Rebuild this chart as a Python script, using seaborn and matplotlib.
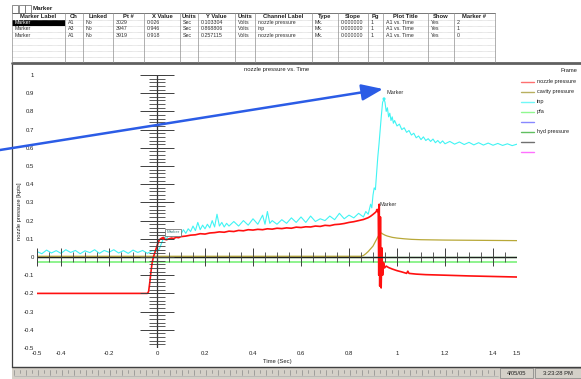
import matplotlib
matplotlib.use("Agg")
import matplotlib.pyplot as plt
import seaborn as sns
import numpy as np
import pandas as pd
from matplotlib.patches import Rectangle

# ---------------- data ----------------
nozzle_t = [-0.5, -0.04, -0.035, -0.03, -0.025, -0.02, -0.015, -0.01, -0.005, 0.0, 0.005, 0.01, 0.015, 0.02,
            0.026, 0.032, 0.04, 0.05, 0.06, 0.07, 0.08, 0.09, 0.1, 0.12, 0.14, 0.16, 0.18, 0.2, 0.22, 0.24,
            0.26, 0.28, 0.3, 0.32, 0.34, 0.36, 0.38, 0.4, 0.42, 0.44, 0.46, 0.48, 0.5, 0.52, 0.54, 0.56,
            0.58, 0.6, 0.62, 0.64, 0.66, 0.68, 0.7, 0.72, 0.74, 0.76, 0.78, 0.8, 0.82, 0.84, 0.86, 0.88,
            0.89, 0.9, 0.91, 0.918, 0.922, 0.924, 0.926, 0.928, 0.931, 0.934, 0.937, 0.94, 0.944, 0.948,
            0.955, 0.965, 0.98, 1.0, 1.02, 1.04, 1.045, 1.05, 1.08, 1.12, 1.2, 1.3, 1.4, 1.5]
nozzle_v = [-0.2, -0.2, -0.19, -0.14, -0.08, -0.03, 0.0, 0.02, 0.04, 0.06, 0.08, 0.095, 0.1, 0.104,
            0.103, 0.097, 0.095, 0.1, 0.104, 0.102, 0.108, 0.106, 0.112, 0.115, 0.12, 0.122, 0.128, 0.126,
            0.132, 0.134, 0.138, 0.136, 0.142, 0.14, 0.146, 0.144, 0.15, 0.148, 0.152, 0.15, 0.155, 0.153,
            0.158, 0.156, 0.16, 0.158, 0.164, 0.162, 0.166, 0.165, 0.17, 0.168, 0.174, 0.172, 0.178, 0.18,
            0.184, 0.19, 0.194, 0.2, 0.206, 0.216, 0.224, 0.234, 0.245, 0.257, 0.24, -0.1, 0.29, -0.16,
            0.22, -0.17, 0.05, -0.1, -0.03, -0.06, -0.05, -0.058, -0.066, -0.075, -0.082, -0.09, -0.078,
            -0.09, -0.094, -0.097, -0.1, -0.104, -0.107, -0.11]

inp_t = [-0.5, -0.48, -0.46, -0.44, -0.42, -0.4, -0.38, -0.36, -0.34, -0.32, -0.3, -0.28, -0.26, -0.24,
         -0.22, -0.2, -0.18, -0.16, -0.14, -0.12, -0.1, -0.08, -0.06, -0.04, -0.02, 0.0, 0.01, 0.02, 0.03,
         0.04, 0.05, 0.06, 0.07, 0.08, 0.09, 0.1, 0.11, 0.12, 0.13, 0.14, 0.15, 0.16, 0.17, 0.18, 0.19,
         0.2, 0.21, 0.22, 0.23, 0.24, 0.25, 0.26, 0.27, 0.28, 0.29, 0.3, 0.32, 0.34, 0.36, 0.38, 0.4,
         0.42, 0.44, 0.45, 0.46, 0.47, 0.48, 0.5, 0.52, 0.54, 0.56, 0.58, 0.6, 0.62, 0.64, 0.66, 0.68,
         0.7, 0.72, 0.74, 0.76, 0.78, 0.8, 0.82, 0.84, 0.86, 0.87, 0.88, 0.89, 0.895, 0.9, 0.905, 0.91,
         0.915, 0.92, 0.925, 0.93, 0.935, 0.94, 0.946, 0.95, 0.955, 0.96, 0.965, 0.97, 0.975, 0.98,
         0.985, 0.99, 1.0, 1.01, 1.02, 1.03, 1.04, 1.05, 1.06, 1.07, 1.08, 1.09, 1.1, 1.11, 1.12, 1.13,
         1.14, 1.15, 1.16, 1.17, 1.18, 1.19, 1.2, 1.22, 1.24, 1.26, 1.28, 1.3, 1.32, 1.34, 1.36, 1.38,
         1.4, 1.42, 1.44, 1.46, 1.48, 1.5]
inp_v = [0.03, 0.018, 0.038, 0.022, 0.035, 0.02, 0.04, 0.025, 0.036, 0.018, 0.034, 0.024, 0.04, 0.02,
         0.036, 0.026, 0.04, 0.022, 0.035, 0.02, 0.038, 0.025, 0.036, 0.02, 0.035, 0.03, 0.045, 0.08, 0.11,
         0.1, 0.125, 0.115, 0.13, 0.12, 0.14, 0.125, 0.15, 0.13, 0.155, 0.14, 0.17, 0.145, 0.19, 0.15,
         0.175, 0.155, 0.18, 0.16, 0.2, 0.165, 0.235, 0.17, 0.19, 0.165, 0.185, 0.17, 0.195, 0.17, 0.2,
         0.175, 0.21, 0.18, 0.23, 0.18, 0.25, 0.185, 0.2, 0.18, 0.205, 0.185, 0.215, 0.19, 0.22, 0.19,
         0.225, 0.195, 0.21, 0.2, 0.225, 0.205, 0.24, 0.21, 0.23, 0.215, 0.24, 0.22, 0.25, 0.235, 0.29,
         0.27, 0.34, 0.38, 0.37, 0.46, 0.55, 0.62, 0.7, 0.78, 0.85, 0.868, 0.85, 0.8, 0.82, 0.77, 0.79,
         0.75, 0.77, 0.735, 0.75, 0.72, 0.73, 0.7, 0.71, 0.685, 0.695, 0.67, 0.68, 0.655, 0.665, 0.645,
         0.66, 0.64, 0.65, 0.635, 0.648, 0.628, 0.64, 0.625, 0.638, 0.622, 0.635, 0.62, 0.632, 0.618,
         0.63, 0.616, 0.628, 0.615, 0.626, 0.614, 0.624, 0.613, 0.622, 0.612, 0.62]

cavity_t = [-0.5, 0.85, 0.86, 0.87, 0.88, 0.89, 0.9, 0.91, 0.92, 0.93, 0.935, 0.94, 0.95, 0.96, 0.98,
            1.0, 1.03, 1.06, 1.1, 1.2, 1.3, 1.4, 1.5]
cavity_v = [0.004, 0.004, 0.008, 0.018, 0.03, 0.045, 0.06, 0.085, 0.11, 0.13, 0.132, 0.127, 0.12, 0.115,
            0.108, 0.104, 0.1, 0.097, 0.095, 0.093, 0.092, 0.091, 0.09]

pfa_t = [-0.5, 1.5]
pfa_v = [-0.03, -0.03]
hyd_t = [-0.5, 1.5]
hyd_v = [0.0, 0.0]

legend_names = ["nozzle pressure", "cavity pressure", "inp", "pfa", "", "hyd pressure", "", ""]
legend_colors = ["#ff7070", "#b8b060", "#70f8f8", "#90f890", "#8888ff", "#60c060", "#707070", "#ff70ff"]

marker_x = [0.026, 0.946, 0.918]
marker_y = [0.103304, 0.868806, 0.257115]

x_tick_vals = [-0.5, -0.4, -0.2, 0, 0.2, 0.4, 0.6, 0.8, 1, 1.2, 1.4, 1.5]
x_tick_labels = ["-0.5", "-0.4", "-0.2", "0", "0.2", "0.4", "0.6", "0.8", "1", "1.2", "1.4", "1.5"]
y_tick_vals = [1, 0.9, 0.8, 0.7, 0.6, 0.5, 0.4, 0.3, 0.2, 0.1, 0, -0.1, -0.2, -0.3, -0.4, -0.5]
y_tick_labels = ["1", "0.9", "0.8", "0.7", "0.6", "0.5", "0.4", "0.3", "0.2", "0.1", "0",
                 "-0.1", "-0.2", "-0.3", "-0.4", "-0.5"]

table_headers = ["Marker Label", "Ch", "Linked", "Pt #", "X Value", "Units", "Y Value", "Units",
                 "Channel Label", "Type", "Slope", "Pg", "Plot Title", "Show", "Marker #"]
table_rows = [
    ["Marker", "A1", "No", "3029", "0.026", "Sec", "0.103304", "Volts", "nozzle pressure", "Mk.",
     "0.000000", "1", "A1 vs. Time", "Yes", "2"],
    ["Marker", "A3", "No", "3947", "0.946", "Sec", "0.868806", "Volts", "inp", "Mk.",
     "0.000000", "1", "A1 vs. Time", "Yes", "1"],
    ["Marker", "A1", "No", "3919", "0.918", "Sec", "0.257115", "Volts", "nozzle pressure", "Mk.",
     "0.000000", "1", "A1 vs. Time", "Yes", "0"],
]

# ---------------- figure ----------------
sns.set_theme(style="white")
plt.rcParams["font.family"] = ["Liberation Sans", "DejaVu Sans"]
W, H = 581, 379
fig = plt.figure(figsize=(W / 100, H / 100), dpi=100)
fig.patch.set_facecolor("white")

ax = fig.add_axes([37 / W, 1 - 348 / H, (517 - 37) / W, (348 - 75) / H])
ax.set_xlim(-0.5, 1.5)
ax.set_ylim(-0.5, 1.0)
for s in ax.spines.values():
    s.set_visible(False)
ax.set_facecolor("none")

frames = []
for name, t, v in [("pfa", pfa_t, pfa_v), ("hyd pressure", hyd_t, hyd_v),
                   ("cavity pressure", cavity_t, cavity_v), ("inp", inp_t, inp_v),
                   ("nozzle pressure", nozzle_t, nozzle_v)]:
    frames.append(pd.DataFrame({"t": t, "v": v, "series": name}))
df = pd.concat(frames, ignore_index=True)
palette = {"pfa": "#70f070", "hyd pressure": "#3a9a3a", "cavity pressure": "#b8a838",
           "inp": "#40f4f4", "nozzle pressure": "#ff1010"}
sizes = {"pfa": 1.1, "hyd pressure": 1.0, "cavity pressure": 0.9, "inp": 0.8, "nozzle pressure": 1.2}
sns.lineplot(data=df, x="t", y="v", hue="series", palette=palette, size="series", sizes=sizes,
             estimator=None, sort=False, legend=False, ax=ax)

# axis cross
ax.axhline(0, color="#202020", lw=0.9, zorder=4)
ax.vlines(0, -0.5, 1.0, color="#303030", lw=0.9, zorder=4)
ymaj = np.round(np.arange(-0.5, 1.0001, 0.1), 3)
ymin = np.round(np.arange(-0.5, 1.0001, 0.02), 3)
ax.hlines(ymin, -0.035, 0.035, color="#404040", lw=0.6, zorder=4)
ax.hlines(ymaj, -0.069, 0.069, color="#404040", lw=0.7, zorder=4)
xt = np.round(np.arange(-0.5, 1.5001, 0.05), 3)
tall = [x for x in xt if abs((x / 0.2) - round(x / 0.2)) < 1e-6 or x in (-0.5, 1.5)]
short = [x for x in xt if x not in tall]
ax.vlines(short, -0.027, 0.027, color="#404040", lw=0.6, zorder=4)
ax.vlines(tall, -0.05, 0.05, color="#404040", lw=0.7, zorder=4)

ax.set_xticks(x_tick_vals)
ax.set_xticklabels(x_tick_labels)
ax.set_yticks(y_tick_vals)
ax.set_yticklabels(y_tick_labels)
ax.tick_params(axis="both", length=0, labelsize=4.3, colors="#202020")
ax.tick_params(axis="x", pad=2.5)
ax.tick_params(axis="y", pad=2.0)
ax.set_xlabel("")
ax.set_ylabel("")

# markers
mcolors = ["#ff1010", "#40f4f4", "#ff1010"]
ax.scatter(marker_x, marker_y, s=5, c=mcolors, zorder=6, linewidths=0)
ax.annotate("Marker", (marker_x[0], marker_y[0]), xytext=(3, 6), textcoords="offset pixels",
            fontsize=3.2, color="#408080", va="center", ha="left",
            bbox=dict(boxstyle="square,pad=0.3", fc="white", ec="#606060", lw=0.5), zorder=7)
ax.annotate("Marker", (marker_x[1], marker_y[1]), xytext=(2, 6), textcoords="offset pixels",
            fontsize=4, color="#303030", va="center", ha="left", zorder=7)
ax.annotate("Marker", (marker_x[2], marker_y[2]), xytext=(2, 6), textcoords="offset pixels",
            fontsize=4, color="#303030", va="center", ha="left", zorder=7)

# ---------------- overlay (pixel coordinates) ----------------
ov = fig.add_axes([0, 0, 1, 1], zorder=5)
ov.set_xlim(0, W)
ov.set_ylim(H, 0)
ov.axis("off")
ov.patch.set_alpha(0)

ov.text(277, 70, "nozzle pressure vs. Time", fontsize=4.2, ha="center", va="center", color="#202020")
ov.text(577, 70, "Frame", fontsize=4.2, ha="right", va="center", color="#202020")
ov.text(277, 362, "Time (Sec)", fontsize=4.2, ha="center", va="center", color="#202020")
ov.text(20, 211, "nozzle pressure [kpts]", fontsize=4.2, ha="center", va="center", rotation=90,
        color="#202020")

for i, (nm, c) in enumerate(zip(legend_names, legend_colors)):
    y = 82 + 10 * i
    ov.plot([521, 534], [y, y], color=c, lw=1.0)
    if nm:
        ov.text(537, y, nm, fontsize=4.0, va="center", ha="left", color="#202020")

# plot frame
ov.plot([12, 12], [64, 367], color="#404040", lw=0.9)
ov.plot([12, 581], [63, 63], color="#606060", lw=2.0)
ov.plot([12, 581], [366.5, 366.5], color="#404040", lw=1.0)

# status bar
ov.add_patch(Rectangle((12, 367), 569, 12, fc="#d4d0c8", ec="none"))
for k, x in enumerate(range(14, 498, 6)):
    ov.plot([x, x], [370, 375 if k % 2 == 0 else 373], color="#8a8a8a", lw=0.5)
ov.plot([14, 498], [375.5, 375.5], color="#a8a8a8", lw=0.4)
ov.add_patch(Rectangle((500, 368), 33, 10, fc="#d4d0c8", ec="#808080", lw=0.5))
ov.add_patch(Rectangle((535, 368), 46, 10, fc="#d4d0c8", ec="#808080", lw=0.5))
ov.text(516.5, 373.5, "4/05/05", fontsize=4.2, ha="center", va="center", color="#202020")
ov.text(558, 373.5, "3:23:28 PM", fontsize=4.2, ha="center", va="center", color="#202020")

# title bar
for bx in (12, 18.5, 25):
    ov.add_patch(Rectangle((bx, 5), 6, 8, fc="white", ec="#606060", lw=0.5))
ov.text(33, 8.5, "Marker", fontsize=4.5, fontweight="bold", ha="left", va="center", color="#202020")

# table
col_edges = [12, 65, 83, 113, 144, 180, 198, 235, 255, 312, 338, 368, 383, 428, 454, 495]
row_edges = [13, 19.5, 25.8, 32.1, 38.4, 44.7, 51.0, 57.3, 62]
ov.plot([12, 495], [13, 13], color="#606060", lw=0.6)
for y in row_edges[1:-1]:
    ov.plot([12, 495], [y, y], color="#b0b0b0", lw=0.4, ls=(0, (1, 1)))
for x in col_edges:
    ov.plot([x, x], [13, 62], color="#909090", lw=0.5)
ov.add_patch(Rectangle((12, row_edges[1]), 53, row_edges[2] - row_edges[1], fc="black", ec="none"))
for j, h in enumerate(table_headers):
    cx = (col_edges[j] + col_edges[j + 1]) / 2
    ov.text(cx, 16.4, h, fontsize=4.2, fontweight="bold", ha="center", va="center", color="#202020")
for i, row in enumerate(table_rows):
    yc = (row_edges[i + 1] + row_edges[i + 2]) / 2
    for j, val in enumerate(row):
        col = "white" if (i == 0 and j == 0) else "#303030"
        ov.text(col_edges[j] + 3, yc, val, fontsize=3.8, ha="left", va="center", color=col)

# blue arrow
ov.annotate("", xy=(383, 89), xytext=(0, 150),
            arrowprops=dict(arrowstyle="-|>,head_length=1.3,head_width=0.5", color="#2b5ce6",
                            lw=1.8, mutation_scale=10, shrinkA=0, shrinkB=0))

fig.savefig("out.png", dpi=100, facecolor="white")
